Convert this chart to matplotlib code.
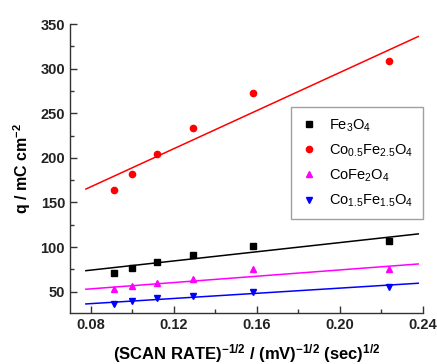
import matplotlib
matplotlib.use('Agg')
import matplotlib.pyplot as plt

plt.rcParams['font.family'] = ['Liberation Sans', 'DejaVu Sans']
plt.rcParams['mathtext.default'] = 'regular'

# scan rate^-1/2 values
x = [0.0913, 0.1000, 0.1118, 0.1291, 0.1581, 0.2236]

q_fe3o4 = [70.6, 76.9, 83.6, 90.8, 101.2, 107.2]
q_co05 = [164, 182, 204, 233, 273, 308]
q_cofe2o4 = [52.7, 56.4, 60.1, 63.9, 75.1, 75.4]
q_co15 = [36.2, 39.6, 42.6, 45.2, 49.7, 55.0]

# fitted lines (end points)
fit_x = [0.0777, 0.2379]
fit_fe3o4 = [73.5, 114.7]
fit_co05 = [165, 336]
fit_cofe2o4 = [52.7, 81.0]
fit_co15 = [36.2, 59.4]

labels = [r'Fe$_3$O$_4$', r'Co$_{0.5}$Fe$_{2.5}$O$_4$',
          r'CoFe$_2$O$_4$', r'Co$_{1.5}$Fe$_{1.5}$O$_4$']
colores = ['black', 'red', '#ff00ff', 'blue']
marcadores = ['s', 'o', '^', 'v']
series = [q_fe3o4, q_co05, q_cofe2o4, q_co15]
ajustes = [fit_fe3o4, fit_co05, fit_cofe2o4, fit_co15]

fig = plt.figure(figsize=(4.37, 3.64), dpi=100)
ax = fig.add_axes([0.160, 0.140, 0.807, 0.794])

for ys, fit, cor, m, lab in zip(series, ajustes, colores, marcadores, labels):
    ax.plot(x, ys, linestyle='none', marker=m, color=cor, markersize=4.5, label=lab)
    ax.plot(fit_x, fit, color=cor, linewidth=1.1)

ax.set_xlim(0.070, 0.240)
ax.set_ylim(26, 350)
ax.set_xticks([0.08, 0.12, 0.16, 0.20, 0.24])
ax.set_xticklabels(['0.08', '0.12', '0.16', '0.20', '0.24'])
ax.set_xticks([0.10, 0.14, 0.18, 0.22], minor=True)
ax.set_yticks([50, 100, 150, 200, 250, 300, 350])
ax.set_yticks([75, 125, 175, 225, 275, 325], minor=True)

ax.spines['top'].set_visible(False)
ax.spines['right'].set_visible(False)
for s in ['left', 'bottom']:
    ax.spines[s].set_color('#333333')
    ax.spines[s].set_linewidth(1.0)
ax.tick_params(which='major', direction='in', length=5, width=1.0, colors='#333333')
ax.tick_params(which='minor', direction='in', length=3, width=1.0, colors='#333333')
ax.tick_params(labelsize=10.5, labelcolor='#222222')
for t in ax.get_xticklabels() + ax.get_yticklabels():
    t.set_fontweight('bold')

ax.set_xlabel(r'(SCAN RATE)$^{-1/2}$ / (mV)$^{-1/2}$ (sec)$^{1/2}$',
              fontsize=12, fontweight='bold', labelpad=7)
ax.set_ylabel(r'q / mC cm$^{-2}$', fontsize=11.5, fontweight='bold', labelpad=5)

leg = ax.legend(loc='upper left', bbox_to_anchor=(0.627, 0.713), fontsize=10.5,
                frameon=True, fancybox=False, edgecolor='#888888',
                handlelength=1.0, handletextpad=0.9, labelspacing=0.6,
                borderpad=0.7, borderaxespad=0)
leg.get_frame().set_linewidth(1.0)

fig.savefig('out.png', dpi=100)
